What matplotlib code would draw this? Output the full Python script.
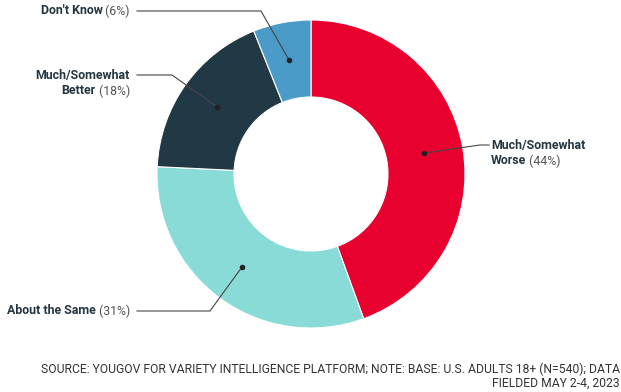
import matplotlib.pyplot as plt

plt.rcParams['font.family'] = ['Roboto', 'DejaVu Sans']

labels = ['Much/Somewhat\nWorse', 'About the Same', 'Much/Somewhat\nBetter', "Don't Know"]
values = [44, 31, 18, 6]
colors = ['#E8002F', '#88DBD6', '#213845', '#4A9BC7']

W, H = 621, 392
cx, cy, R = 311, 174, 154

fig = plt.figure(figsize=(W / 100, H / 100), dpi=100)
ax = fig.add_axes([(cx - R) / W, (H - cy - R) / H, 2 * R / W, 2 * R / H])
ax.pie(values, colors=colors, startangle=90, counterclock=False, radius=1,
       wedgeprops=dict(width=0.5, edgecolor='white', linewidth=0.8))
ax.set_xlim(-1, 1)
ax.set_ylim(-1, 1)
ax.axis('off')


def d(px, py):
    # pixel (from top-left) -> data coords
    return (px - cx) / R, (cy - py) / R


# dot, elbow, line end, text anchor, side
layout = [
    [(424, 153), (480, 145), (489, 145), (491, 145), 'left'],
    [(242, 267), (210, 311), (137, 311), (130, 311), 'right'],
    [(217, 107), (172, 75), (137, 75), (130, 75), 'right'],
    [(289, 60), (261, 11), (137, 11), (130, 11), 'right'],
]

txt = '#243642'
fs = 8.9
fig.canvas.draw()
r = fig.canvas.get_renderer()
inv = ax.transData.inverted()

for lab, v, (dot, elb, end, anc, side) in zip(labels, values, layout):
    pts = [d(*dot), d(*elb), d(*end)]
    ax.plot([p[0] for p in pts], [p[1] for p in pts], color='#444444', lw=0.8,
            clip_on=False)
    ax.plot(*d(*dot), 'o', color='#222222', ms=3, clip_on=False)
    lines = lab.split('\n')
    tx, ty = d(*anc)
    lh = 16 / R
    n = len(lines)
    for i, ln in enumerate(lines):
        y = ty - i * lh
        last = i == n - 1
        if side == 'right':
            if last:
                t2 = ax.text(tx, y, ' (%d%%)' % v, ha='right', va='center',
                             fontsize=fs, color='#555555')
                bb = t2.get_window_extent(r)
                x0 = inv.transform((bb.x0, bb.y0))[0]
                ax.text(x0, y, ln, ha='right', va='center', fontsize=fs,
                        fontweight='bold', color=txt)
            else:
                ax.text(tx, y, ln, ha='right', va='center', fontsize=fs,
                        fontweight='bold', color=txt)
        else:
            t1 = ax.text(tx, y, ln, ha='left', va='center', fontsize=fs,
                         fontweight='bold', color=txt)
            if last:
                bb = t1.get_window_extent(r)
                x1 = inv.transform((bb.x1, bb.y0))[0]
                ax.text(x1, y, ' (%d%%)' % v, ha='left', va='center',
                        fontsize=fs, color='#555555')

fig.text(620 / W, 1 - 376 / H,
         'SOURCE: YOUGOV FOR VARIETY INTELLIGENCE PLATFORM; NOTE: BASE: U.S. ADULTS 18+ (N=540); DATA\nFIELDED MAY 2-4, 2023',
         ha='right', va='center', fontsize=8.7, color='#333333', linespacing=1.1)

fig.savefig('out.png', dpi=100)
